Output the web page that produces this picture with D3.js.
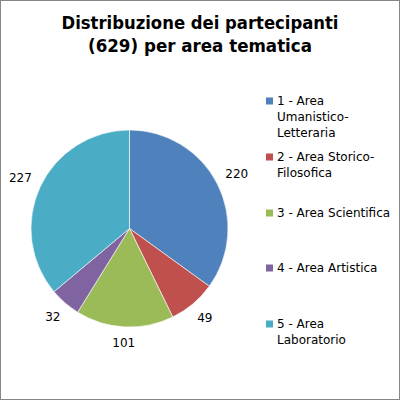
<!DOCTYPE html>
<html><head><meta charset="utf-8">
<script src="https://cdn.jsdelivr.net/npm/d3@7/dist/d3.min.js"></script>
<style>body{margin:0;background:#fff}svg{display:block}</style>
</head><body>
<svg id="c" width="400" height="400"></svg>
<script>
const categories = ["1 - Area Umanistico-Letteraria","2 - Area Storico-Filosofica","3 - Area Scientifica","4 - Area Artistica","5 - Area Laboratorio"];
const legendLines = [["1 - Area","Umanistico-","Letteraria"],["2 - Area Storico-","Filosofica"],["3 - Area Scientifica"],["4 - Area Artistica"],["5 - Area","Laboratorio"]];
const values = [220,49,101,32,227];
const colors = ["#4F81BD","#C0504D","#9BBB59","#8064A2","#4BACC6"];
const titleLines = ["Distribuzione dei partecipanti","(629) per area tematica"];

const svg = d3.select("#c");
const font = "Verdana, 'DejaVu Sans', sans-serif";
svg.append("rect").attr("x",0.5).attr("y",0.5).attr("width",399).attr("height",399)
  .attr("fill","#fff").attr("stroke","#868686");

const titleW = [277,224];
svg.append("g").selectAll("text").data(titleLines).join("text")
  .attr("x",200).attr("y",(d,i)=>29+i*22.5).attr("text-anchor","middle")
  .attr("font-family",font).attr("font-weight","bold").attr("font-size",18).attr("fill","#000")
  .attr("textLength",(d,i)=>titleW[i]).attr("lengthAdjust","spacingAndGlyphs")
  .text(d=>d);

const cx=129.5, cy=228.5, r=98.5;
const pie = d3.pie().sort(null).value(d=>d);
const arcs = pie(values);
const arc = d3.arc().innerRadius(0).outerRadius(r);
const g = svg.append("g").attr("transform",`translate(${cx},${cy})`);
g.selectAll("path").data(arcs).join("path")
  .attr("d",arc).attr("fill",(d,i)=>colors[i]).attr("stroke","#fff").attr("stroke-width",0.6);

g.selectAll("text").data(arcs).join("text")
  .attr("font-family",font).attr("font-size",12).attr("fill","#000")
  .attr("text-anchor","middle").attr("dy","0.35em")
  .text(d=>d.data)
  .attr("transform",function(d){
    const a=(d.startAngle+d.endAngle)/2;
    const w=this.getComputedTextLength();
    const off=9+Math.abs(Math.sin(a))*w/2+Math.abs(Math.cos(a))*6;
    const rr=r+off;
    return `translate(${Math.sin(a)*rr},${-Math.cos(a)*rr})`;
  });

const legendY = [101,157,213,268,324];
const lg = svg.append("g");
legendLines.forEach((lines,i)=>{
  lg.append("rect").attr("x",266).attr("y",legendY[i]-3.5).attr("width",7).attr("height",7).attr("fill",colors[i]);
  lg.append("text").attr("font-family",font).attr("font-size",12).attr("fill","#000")
    .selectAll("tspan").data(lines).join("tspan")
    .attr("x",277).attr("y",(d,j)=>legendY[i]+j*16).attr("dy","0.35em").text(d=>d);
});
</script>
</body></html>
